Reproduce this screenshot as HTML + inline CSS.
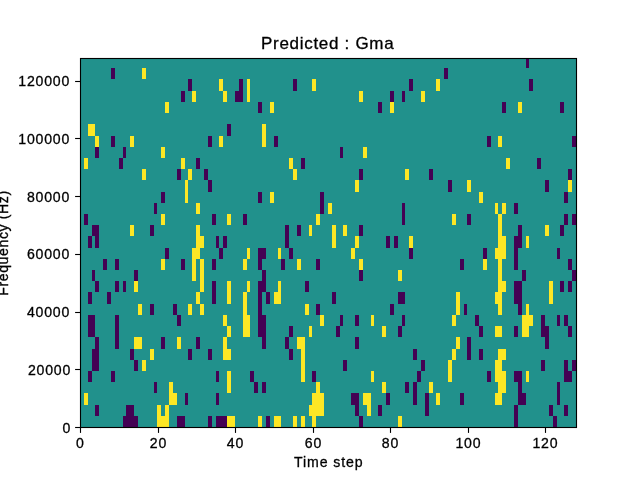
<!DOCTYPE html>
<html><head><meta charset="utf-8"><title>Predicted : Gma</title>
<style>
html,body{margin:0;padding:0;background:#fff;}
body{width:640px;height:480px;position:relative;overflow:hidden;font-family:"Liberation Sans",sans-serif;color:#000;}
svg{position:absolute;left:0;top:0;}
.t{position:absolute;white-space:nowrap;will-change:transform;-webkit-text-stroke:0.3px #000;}
.xt{top:434.5px;width:80px;text-align:center;font-size:14.1px;line-height:16px;letter-spacing:0.8px;text-indent:0.8px;}
.yt{left:0;width:70.1px;text-align:right;font-size:14.1px;line-height:16px;letter-spacing:0.8px;}
.title{left:261px;top:32.5px;font-size:17px;line-height:22px;letter-spacing:0.7px;}
.xl{left:294px;top:452.5px;font-size:14.1px;line-height:18px;letter-spacing:0.9px;}
.yl{left:-97.5px;top:234.2px;width:200px;height:18px;text-align:center;font-size:14.1px;line-height:18px;letter-spacing:0.6px;transform:rotate(-90deg);transform-origin:50% 50%;}
</style></head><body>
<svg width="640" height="480" viewBox="0 0 640 480" shape-rendering="crispEdges">
<rect x="80" y="58" width="497" height="370" fill="#21918c"/>
<rect x="526" y="58" width="3" height="10" fill="#440154"/>
<rect x="111" y="68" width="4" height="11" fill="#440154"/>
<rect x="444" y="68" width="4" height="11" fill="#440154"/>
<rect x="142" y="68" width="4" height="11" fill="#fde725"/>
<rect x="188" y="79" width="4" height="12" fill="#440154"/>
<rect x="239" y="79" width="4" height="12" fill="#440154"/>
<rect x="293" y="79" width="4" height="12" fill="#440154"/>
<rect x="409" y="79" width="4" height="12" fill="#440154"/>
<rect x="529" y="79" width="4" height="12" fill="#440154"/>
<rect x="219" y="79" width="4" height="12" fill="#fde725"/>
<rect x="247" y="79" width="3" height="12" fill="#fde725"/>
<rect x="312" y="79" width="4" height="12" fill="#fde725"/>
<rect x="436" y="79" width="4" height="12" fill="#fde725"/>
<rect x="181" y="91" width="4" height="11" fill="#440154"/>
<rect x="235" y="91" width="8" height="11" fill="#440154"/>
<rect x="390" y="91" width="4" height="11" fill="#440154"/>
<rect x="402" y="91" width="3" height="11" fill="#440154"/>
<rect x="192" y="91" width="4" height="11" fill="#fde725"/>
<rect x="223" y="91" width="4" height="11" fill="#fde725"/>
<rect x="247" y="91" width="3" height="11" fill="#fde725"/>
<rect x="359" y="91" width="4" height="11" fill="#fde725"/>
<rect x="421" y="91" width="4" height="11" fill="#fde725"/>
<rect x="258" y="102" width="4" height="11" fill="#440154"/>
<rect x="378" y="102" width="4" height="11" fill="#440154"/>
<rect x="502" y="102" width="4" height="11" fill="#440154"/>
<rect x="560" y="102" width="4" height="11" fill="#440154"/>
<rect x="165" y="102" width="4" height="11" fill="#fde725"/>
<rect x="270" y="102" width="4" height="11" fill="#fde725"/>
<rect x="390" y="102" width="4" height="11" fill="#fde725"/>
<rect x="518" y="102" width="4" height="11" fill="#fde725"/>
<rect x="227" y="124" width="4" height="12" fill="#440154"/>
<rect x="88" y="124" width="7" height="12" fill="#fde725"/>
<rect x="262" y="124" width="4" height="12" fill="#fde725"/>
<rect x="111" y="136" width="4" height="11" fill="#440154"/>
<rect x="208" y="136" width="4" height="11" fill="#440154"/>
<rect x="274" y="136" width="4" height="11" fill="#440154"/>
<rect x="487" y="136" width="4" height="11" fill="#440154"/>
<rect x="572" y="136" width="4" height="11" fill="#440154"/>
<rect x="95" y="136" width="4" height="11" fill="#fde725"/>
<rect x="130" y="136" width="4" height="11" fill="#fde725"/>
<rect x="219" y="136" width="4" height="11" fill="#fde725"/>
<rect x="262" y="136" width="4" height="11" fill="#fde725"/>
<rect x="498" y="136" width="4" height="11" fill="#fde725"/>
<rect x="95" y="147" width="4" height="11" fill="#440154"/>
<rect x="123" y="147" width="3" height="11" fill="#440154"/>
<rect x="340" y="147" width="3" height="11" fill="#440154"/>
<rect x="161" y="147" width="4" height="11" fill="#fde725"/>
<rect x="363" y="147" width="4" height="11" fill="#fde725"/>
<rect x="119" y="158" width="4" height="11" fill="#440154"/>
<rect x="196" y="158" width="4" height="11" fill="#440154"/>
<rect x="301" y="158" width="4" height="11" fill="#440154"/>
<rect x="537" y="158" width="4" height="11" fill="#440154"/>
<rect x="84" y="158" width="4" height="11" fill="#fde725"/>
<rect x="181" y="158" width="4" height="11" fill="#fde725"/>
<rect x="289" y="158" width="4" height="11" fill="#fde725"/>
<rect x="506" y="158" width="4" height="11" fill="#fde725"/>
<rect x="177" y="169" width="4" height="11" fill="#440154"/>
<rect x="204" y="169" width="4" height="11" fill="#440154"/>
<rect x="359" y="169" width="4" height="11" fill="#440154"/>
<rect x="429" y="169" width="4" height="11" fill="#440154"/>
<rect x="568" y="169" width="4" height="11" fill="#440154"/>
<rect x="142" y="169" width="4" height="11" fill="#fde725"/>
<rect x="188" y="169" width="4" height="11" fill="#fde725"/>
<rect x="293" y="169" width="4" height="11" fill="#fde725"/>
<rect x="405" y="169" width="4" height="11" fill="#fde725"/>
<rect x="208" y="180" width="4" height="12" fill="#440154"/>
<rect x="448" y="180" width="4" height="12" fill="#440154"/>
<rect x="545" y="180" width="4" height="12" fill="#440154"/>
<rect x="185" y="180" width="3" height="12" fill="#fde725"/>
<rect x="355" y="180" width="4" height="12" fill="#fde725"/>
<rect x="467" y="180" width="4" height="12" fill="#fde725"/>
<rect x="568" y="180" width="4" height="12" fill="#fde725"/>
<rect x="161" y="192" width="4" height="11" fill="#440154"/>
<rect x="258" y="192" width="4" height="11" fill="#440154"/>
<rect x="320" y="192" width="4" height="11" fill="#440154"/>
<rect x="564" y="192" width="4" height="11" fill="#440154"/>
<rect x="185" y="192" width="3" height="11" fill="#fde725"/>
<rect x="270" y="192" width="4" height="11" fill="#fde725"/>
<rect x="479" y="192" width="4" height="11" fill="#fde725"/>
<rect x="154" y="203" width="3" height="11" fill="#440154"/>
<rect x="320" y="203" width="4" height="11" fill="#440154"/>
<rect x="402" y="203" width="3" height="11" fill="#440154"/>
<rect x="514" y="203" width="4" height="11" fill="#440154"/>
<rect x="196" y="203" width="4" height="11" fill="#fde725"/>
<rect x="328" y="203" width="4" height="11" fill="#fde725"/>
<rect x="495" y="203" width="3" height="11" fill="#fde725"/>
<rect x="502" y="203" width="4" height="11" fill="#fde725"/>
<rect x="84" y="214" width="4" height="11" fill="#440154"/>
<rect x="212" y="214" width="4" height="11" fill="#440154"/>
<rect x="243" y="214" width="4" height="11" fill="#440154"/>
<rect x="402" y="214" width="3" height="11" fill="#440154"/>
<rect x="467" y="214" width="4" height="11" fill="#440154"/>
<rect x="564" y="214" width="4" height="11" fill="#440154"/>
<rect x="572" y="214" width="4" height="11" fill="#440154"/>
<rect x="161" y="214" width="4" height="11" fill="#fde725"/>
<rect x="227" y="214" width="4" height="11" fill="#fde725"/>
<rect x="316" y="214" width="4" height="11" fill="#fde725"/>
<rect x="452" y="214" width="4" height="11" fill="#fde725"/>
<rect x="498" y="214" width="4" height="11" fill="#fde725"/>
<rect x="92" y="225" width="7" height="11" fill="#440154"/>
<rect x="150" y="225" width="4" height="11" fill="#440154"/>
<rect x="285" y="225" width="4" height="11" fill="#440154"/>
<rect x="297" y="225" width="4" height="11" fill="#440154"/>
<rect x="359" y="225" width="4" height="11" fill="#440154"/>
<rect x="518" y="225" width="4" height="11" fill="#440154"/>
<rect x="560" y="225" width="4" height="11" fill="#440154"/>
<rect x="130" y="225" width="4" height="11" fill="#fde725"/>
<rect x="196" y="225" width="4" height="11" fill="#fde725"/>
<rect x="309" y="225" width="3" height="11" fill="#fde725"/>
<rect x="332" y="225" width="4" height="11" fill="#fde725"/>
<rect x="343" y="225" width="4" height="11" fill="#fde725"/>
<rect x="498" y="225" width="4" height="11" fill="#fde725"/>
<rect x="545" y="225" width="4" height="11" fill="#fde725"/>
<rect x="88" y="236" width="4" height="12" fill="#440154"/>
<rect x="95" y="236" width="4" height="12" fill="#440154"/>
<rect x="216" y="236" width="3" height="12" fill="#440154"/>
<rect x="223" y="236" width="4" height="12" fill="#440154"/>
<rect x="285" y="236" width="4" height="12" fill="#440154"/>
<rect x="386" y="236" width="4" height="12" fill="#440154"/>
<rect x="394" y="236" width="4" height="12" fill="#440154"/>
<rect x="514" y="236" width="8" height="12" fill="#440154"/>
<rect x="196" y="236" width="8" height="12" fill="#fde725"/>
<rect x="332" y="236" width="4" height="12" fill="#fde725"/>
<rect x="355" y="236" width="4" height="12" fill="#fde725"/>
<rect x="409" y="236" width="4" height="12" fill="#fde725"/>
<rect x="498" y="236" width="8" height="12" fill="#fde725"/>
<rect x="526" y="236" width="3" height="12" fill="#fde725"/>
<rect x="165" y="248" width="4" height="11" fill="#440154"/>
<rect x="219" y="248" width="4" height="11" fill="#440154"/>
<rect x="258" y="248" width="8" height="11" fill="#440154"/>
<rect x="289" y="248" width="4" height="11" fill="#440154"/>
<rect x="409" y="248" width="4" height="11" fill="#440154"/>
<rect x="483" y="248" width="4" height="11" fill="#440154"/>
<rect x="514" y="248" width="4" height="11" fill="#440154"/>
<rect x="557" y="248" width="3" height="11" fill="#440154"/>
<rect x="192" y="248" width="8" height="11" fill="#fde725"/>
<rect x="247" y="248" width="3" height="11" fill="#fde725"/>
<rect x="278" y="248" width="3" height="11" fill="#fde725"/>
<rect x="351" y="248" width="4" height="11" fill="#fde725"/>
<rect x="495" y="248" width="11" height="11" fill="#fde725"/>
<rect x="103" y="259" width="4" height="11" fill="#440154"/>
<rect x="115" y="259" width="4" height="11" fill="#440154"/>
<rect x="181" y="259" width="4" height="11" fill="#440154"/>
<rect x="212" y="259" width="4" height="11" fill="#440154"/>
<rect x="258" y="259" width="4" height="11" fill="#440154"/>
<rect x="281" y="259" width="4" height="11" fill="#440154"/>
<rect x="316" y="259" width="4" height="11" fill="#440154"/>
<rect x="460" y="259" width="4" height="11" fill="#440154"/>
<rect x="514" y="259" width="4" height="11" fill="#440154"/>
<rect x="568" y="259" width="4" height="11" fill="#440154"/>
<rect x="161" y="259" width="4" height="11" fill="#fde725"/>
<rect x="192" y="259" width="4" height="11" fill="#fde725"/>
<rect x="200" y="259" width="4" height="11" fill="#fde725"/>
<rect x="243" y="259" width="4" height="11" fill="#fde725"/>
<rect x="297" y="259" width="4" height="11" fill="#fde725"/>
<rect x="359" y="259" width="4" height="11" fill="#fde725"/>
<rect x="483" y="259" width="4" height="11" fill="#fde725"/>
<rect x="498" y="259" width="4" height="11" fill="#fde725"/>
<rect x="92" y="270" width="3" height="11" fill="#440154"/>
<rect x="134" y="270" width="4" height="11" fill="#440154"/>
<rect x="262" y="270" width="4" height="11" fill="#440154"/>
<rect x="359" y="270" width="4" height="11" fill="#440154"/>
<rect x="522" y="270" width="4" height="11" fill="#440154"/>
<rect x="572" y="270" width="4" height="11" fill="#440154"/>
<rect x="192" y="270" width="4" height="11" fill="#fde725"/>
<rect x="200" y="270" width="4" height="11" fill="#fde725"/>
<rect x="398" y="270" width="4" height="11" fill="#fde725"/>
<rect x="498" y="270" width="4" height="11" fill="#fde725"/>
<rect x="95" y="281" width="4" height="11" fill="#440154"/>
<rect x="115" y="281" width="4" height="11" fill="#440154"/>
<rect x="123" y="281" width="3" height="11" fill="#440154"/>
<rect x="212" y="281" width="4" height="11" fill="#440154"/>
<rect x="258" y="281" width="8" height="11" fill="#440154"/>
<rect x="305" y="281" width="4" height="11" fill="#440154"/>
<rect x="514" y="281" width="8" height="11" fill="#440154"/>
<rect x="560" y="281" width="4" height="11" fill="#440154"/>
<rect x="568" y="281" width="4" height="11" fill="#440154"/>
<rect x="134" y="281" width="4" height="11" fill="#fde725"/>
<rect x="200" y="281" width="4" height="11" fill="#fde725"/>
<rect x="227" y="281" width="4" height="11" fill="#fde725"/>
<rect x="247" y="281" width="3" height="11" fill="#fde725"/>
<rect x="278" y="281" width="3" height="11" fill="#fde725"/>
<rect x="498" y="281" width="8" height="11" fill="#fde725"/>
<rect x="549" y="281" width="4" height="11" fill="#fde725"/>
<rect x="88" y="292" width="4" height="12" fill="#440154"/>
<rect x="107" y="292" width="4" height="12" fill="#440154"/>
<rect x="212" y="292" width="4" height="12" fill="#440154"/>
<rect x="258" y="292" width="4" height="12" fill="#440154"/>
<rect x="266" y="292" width="4" height="12" fill="#440154"/>
<rect x="332" y="292" width="4" height="12" fill="#440154"/>
<rect x="398" y="292" width="7" height="12" fill="#440154"/>
<rect x="514" y="292" width="8" height="12" fill="#440154"/>
<rect x="196" y="292" width="4" height="12" fill="#fde725"/>
<rect x="227" y="292" width="4" height="12" fill="#fde725"/>
<rect x="243" y="292" width="4" height="12" fill="#fde725"/>
<rect x="274" y="292" width="7" height="12" fill="#fde725"/>
<rect x="456" y="292" width="4" height="12" fill="#fde725"/>
<rect x="495" y="292" width="7" height="12" fill="#fde725"/>
<rect x="549" y="292" width="4" height="12" fill="#fde725"/>
<rect x="150" y="304" width="4" height="11" fill="#440154"/>
<rect x="173" y="304" width="4" height="11" fill="#440154"/>
<rect x="258" y="304" width="4" height="11" fill="#440154"/>
<rect x="316" y="304" width="4" height="11" fill="#440154"/>
<rect x="390" y="304" width="4" height="11" fill="#440154"/>
<rect x="464" y="304" width="3" height="11" fill="#440154"/>
<rect x="518" y="304" width="4" height="11" fill="#440154"/>
<rect x="138" y="304" width="4" height="11" fill="#fde725"/>
<rect x="188" y="304" width="4" height="11" fill="#fde725"/>
<rect x="200" y="304" width="4" height="11" fill="#fde725"/>
<rect x="243" y="304" width="4" height="11" fill="#fde725"/>
<rect x="305" y="304" width="4" height="11" fill="#fde725"/>
<rect x="456" y="304" width="4" height="11" fill="#fde725"/>
<rect x="498" y="304" width="4" height="11" fill="#fde725"/>
<rect x="526" y="304" width="3" height="11" fill="#fde725"/>
<rect x="88" y="315" width="7" height="11" fill="#440154"/>
<rect x="115" y="315" width="4" height="11" fill="#440154"/>
<rect x="177" y="315" width="4" height="11" fill="#440154"/>
<rect x="258" y="315" width="8" height="11" fill="#440154"/>
<rect x="340" y="315" width="3" height="11" fill="#440154"/>
<rect x="355" y="315" width="4" height="11" fill="#440154"/>
<rect x="402" y="315" width="3" height="11" fill="#440154"/>
<rect x="475" y="315" width="4" height="11" fill="#440154"/>
<rect x="541" y="315" width="4" height="11" fill="#440154"/>
<rect x="557" y="315" width="3" height="11" fill="#440154"/>
<rect x="564" y="315" width="4" height="11" fill="#440154"/>
<rect x="223" y="315" width="4" height="11" fill="#fde725"/>
<rect x="243" y="315" width="7" height="11" fill="#fde725"/>
<rect x="320" y="315" width="4" height="11" fill="#fde725"/>
<rect x="371" y="315" width="3" height="11" fill="#fde725"/>
<rect x="452" y="315" width="4" height="11" fill="#fde725"/>
<rect x="522" y="315" width="11" height="11" fill="#fde725"/>
<rect x="88" y="326" width="7" height="11" fill="#440154"/>
<rect x="115" y="326" width="4" height="11" fill="#440154"/>
<rect x="258" y="326" width="8" height="11" fill="#440154"/>
<rect x="289" y="326" width="4" height="11" fill="#440154"/>
<rect x="336" y="326" width="4" height="11" fill="#440154"/>
<rect x="398" y="326" width="4" height="11" fill="#440154"/>
<rect x="479" y="326" width="4" height="11" fill="#440154"/>
<rect x="514" y="326" width="4" height="11" fill="#440154"/>
<rect x="541" y="326" width="8" height="11" fill="#440154"/>
<rect x="568" y="326" width="4" height="11" fill="#440154"/>
<rect x="227" y="326" width="4" height="11" fill="#fde725"/>
<rect x="243" y="326" width="7" height="11" fill="#fde725"/>
<rect x="309" y="326" width="3" height="11" fill="#fde725"/>
<rect x="382" y="326" width="4" height="11" fill="#fde725"/>
<rect x="495" y="326" width="7" height="11" fill="#fde725"/>
<rect x="522" y="326" width="7" height="11" fill="#fde725"/>
<rect x="95" y="337" width="4" height="12" fill="#440154"/>
<rect x="115" y="337" width="4" height="12" fill="#440154"/>
<rect x="161" y="337" width="4" height="12" fill="#440154"/>
<rect x="196" y="337" width="4" height="12" fill="#440154"/>
<rect x="262" y="337" width="4" height="12" fill="#440154"/>
<rect x="285" y="337" width="4" height="12" fill="#440154"/>
<rect x="355" y="337" width="4" height="12" fill="#440154"/>
<rect x="467" y="337" width="4" height="12" fill="#440154"/>
<rect x="545" y="337" width="4" height="12" fill="#440154"/>
<rect x="134" y="337" width="8" height="12" fill="#fde725"/>
<rect x="177" y="337" width="4" height="12" fill="#fde725"/>
<rect x="223" y="337" width="4" height="12" fill="#fde725"/>
<rect x="297" y="337" width="8" height="12" fill="#fde725"/>
<rect x="456" y="337" width="4" height="12" fill="#fde725"/>
<rect x="92" y="349" width="7" height="11" fill="#440154"/>
<rect x="130" y="349" width="4" height="11" fill="#440154"/>
<rect x="188" y="349" width="4" height="11" fill="#440154"/>
<rect x="208" y="349" width="4" height="11" fill="#440154"/>
<rect x="289" y="349" width="4" height="11" fill="#440154"/>
<rect x="413" y="349" width="4" height="11" fill="#440154"/>
<rect x="467" y="349" width="4" height="11" fill="#440154"/>
<rect x="479" y="349" width="4" height="11" fill="#440154"/>
<rect x="150" y="349" width="4" height="11" fill="#fde725"/>
<rect x="223" y="349" width="8" height="11" fill="#fde725"/>
<rect x="301" y="349" width="4" height="11" fill="#fde725"/>
<rect x="452" y="349" width="4" height="11" fill="#fde725"/>
<rect x="498" y="349" width="8" height="11" fill="#fde725"/>
<rect x="92" y="360" width="7" height="11" fill="#440154"/>
<rect x="134" y="360" width="4" height="11" fill="#440154"/>
<rect x="343" y="360" width="4" height="11" fill="#440154"/>
<rect x="421" y="360" width="4" height="11" fill="#440154"/>
<rect x="541" y="360" width="4" height="11" fill="#440154"/>
<rect x="564" y="360" width="4" height="11" fill="#440154"/>
<rect x="572" y="360" width="4" height="11" fill="#440154"/>
<rect x="142" y="360" width="4" height="11" fill="#fde725"/>
<rect x="301" y="360" width="4" height="11" fill="#fde725"/>
<rect x="448" y="360" width="4" height="11" fill="#fde725"/>
<rect x="495" y="360" width="7" height="11" fill="#fde725"/>
<rect x="88" y="371" width="4" height="11" fill="#440154"/>
<rect x="111" y="371" width="4" height="11" fill="#440154"/>
<rect x="216" y="371" width="3" height="11" fill="#440154"/>
<rect x="250" y="371" width="4" height="11" fill="#440154"/>
<rect x="312" y="371" width="4" height="11" fill="#440154"/>
<rect x="417" y="371" width="4" height="11" fill="#440154"/>
<rect x="487" y="371" width="4" height="11" fill="#440154"/>
<rect x="514" y="371" width="8" height="11" fill="#440154"/>
<rect x="564" y="371" width="8" height="11" fill="#440154"/>
<rect x="227" y="371" width="4" height="11" fill="#fde725"/>
<rect x="301" y="371" width="4" height="11" fill="#fde725"/>
<rect x="371" y="371" width="3" height="11" fill="#fde725"/>
<rect x="448" y="371" width="4" height="11" fill="#fde725"/>
<rect x="495" y="371" width="11" height="11" fill="#fde725"/>
<rect x="526" y="371" width="3" height="11" fill="#fde725"/>
<rect x="154" y="382" width="3" height="11" fill="#440154"/>
<rect x="254" y="382" width="4" height="11" fill="#440154"/>
<rect x="262" y="382" width="4" height="11" fill="#440154"/>
<rect x="405" y="382" width="4" height="11" fill="#440154"/>
<rect x="413" y="382" width="4" height="11" fill="#440154"/>
<rect x="518" y="382" width="4" height="11" fill="#440154"/>
<rect x="557" y="382" width="3" height="11" fill="#440154"/>
<rect x="169" y="382" width="4" height="11" fill="#fde725"/>
<rect x="227" y="382" width="4" height="11" fill="#fde725"/>
<rect x="316" y="382" width="4" height="11" fill="#fde725"/>
<rect x="382" y="382" width="4" height="11" fill="#fde725"/>
<rect x="429" y="382" width="4" height="11" fill="#fde725"/>
<rect x="498" y="382" width="8" height="11" fill="#fde725"/>
<rect x="185" y="393" width="3" height="12" fill="#440154"/>
<rect x="216" y="393" width="3" height="12" fill="#440154"/>
<rect x="351" y="393" width="8" height="12" fill="#440154"/>
<rect x="386" y="393" width="4" height="12" fill="#440154"/>
<rect x="413" y="393" width="4" height="12" fill="#440154"/>
<rect x="425" y="393" width="4" height="12" fill="#440154"/>
<rect x="460" y="393" width="4" height="12" fill="#440154"/>
<rect x="518" y="393" width="8" height="12" fill="#440154"/>
<rect x="557" y="393" width="3" height="12" fill="#440154"/>
<rect x="84" y="393" width="4" height="12" fill="#fde725"/>
<rect x="169" y="393" width="8" height="12" fill="#fde725"/>
<rect x="312" y="393" width="12" height="12" fill="#fde725"/>
<rect x="363" y="393" width="8" height="12" fill="#fde725"/>
<rect x="436" y="393" width="4" height="12" fill="#fde725"/>
<rect x="495" y="393" width="7" height="12" fill="#fde725"/>
<rect x="95" y="405" width="4" height="11" fill="#440154"/>
<rect x="126" y="405" width="8" height="11" fill="#440154"/>
<rect x="355" y="405" width="4" height="11" fill="#440154"/>
<rect x="378" y="405" width="4" height="11" fill="#440154"/>
<rect x="425" y="405" width="4" height="11" fill="#440154"/>
<rect x="514" y="405" width="4" height="11" fill="#440154"/>
<rect x="549" y="405" width="4" height="11" fill="#440154"/>
<rect x="564" y="405" width="4" height="11" fill="#440154"/>
<rect x="157" y="405" width="4" height="11" fill="#fde725"/>
<rect x="165" y="405" width="4" height="11" fill="#fde725"/>
<rect x="309" y="405" width="15" height="11" fill="#fde725"/>
<rect x="367" y="405" width="4" height="11" fill="#fde725"/>
<rect x="123" y="416" width="15" height="11" fill="#440154"/>
<rect x="177" y="416" width="8" height="11" fill="#440154"/>
<rect x="208" y="416" width="4" height="11" fill="#440154"/>
<rect x="216" y="416" width="11" height="11" fill="#440154"/>
<rect x="266" y="416" width="4" height="11" fill="#440154"/>
<rect x="359" y="416" width="4" height="11" fill="#440154"/>
<rect x="514" y="416" width="4" height="11" fill="#440154"/>
<rect x="553" y="416" width="4" height="11" fill="#440154"/>
<rect x="157" y="416" width="12" height="11" fill="#fde725"/>
<rect x="227" y="416" width="8" height="11" fill="#fde725"/>
<rect x="258" y="416" width="4" height="11" fill="#fde725"/>
<rect x="274" y="416" width="7" height="11" fill="#fde725"/>
<rect x="293" y="416" width="4" height="11" fill="#fde725"/>
<rect x="301" y="416" width="4" height="11" fill="#fde725"/>
<rect x="312" y="416" width="4" height="11" fill="#fde725"/>
<rect x="398" y="416" width="4" height="11" fill="#fde725"/>
</svg>
<svg width="640" height="480" viewBox="0 0 640 480">
<rect x="80.5" y="58.5" width="496" height="369" fill="none" stroke="#000" stroke-width="1.11"/>
<line x1="80.5" y1="427.5" x2="80.5" y2="432.9" stroke="#000" stroke-width="1.11"/>
<line x1="158.5" y1="427.5" x2="158.5" y2="432.9" stroke="#000" stroke-width="1.11"/>
<line x1="235.5" y1="427.5" x2="235.5" y2="432.9" stroke="#000" stroke-width="1.11"/>
<line x1="313.5" y1="427.5" x2="313.5" y2="432.9" stroke="#000" stroke-width="1.11"/>
<line x1="390.5" y1="427.5" x2="390.5" y2="432.9" stroke="#000" stroke-width="1.11"/>
<line x1="468.5" y1="427.5" x2="468.5" y2="432.9" stroke="#000" stroke-width="1.11"/>
<line x1="545.5" y1="427.5" x2="545.5" y2="432.9" stroke="#000" stroke-width="1.11"/>
<line x1="75.1" y1="427.5" x2="80.5" y2="427.5" stroke="#000" stroke-width="1.11"/>
<line x1="75.1" y1="369.5" x2="80.5" y2="369.5" stroke="#000" stroke-width="1.11"/>
<line x1="75.1" y1="312.5" x2="80.5" y2="312.5" stroke="#000" stroke-width="1.11"/>
<line x1="75.1" y1="254.5" x2="80.5" y2="254.5" stroke="#000" stroke-width="1.11"/>
<line x1="75.1" y1="196.5" x2="80.5" y2="196.5" stroke="#000" stroke-width="1.11"/>
<line x1="75.1" y1="138.5" x2="80.5" y2="138.5" stroke="#000" stroke-width="1.11"/>
<line x1="75.1" y1="81.5" x2="80.5" y2="81.5" stroke="#000" stroke-width="1.11"/>
</svg>
<div class="t title">Predicted : Gma</div>
<div class="t xl">Time step</div>
<div class="t yl">Frequency (Hz)</div>
<div class="t xt" style="left:39.50px">0</div>
<div class="t xt" style="left:117.50px">20</div>
<div class="t xt" style="left:194.50px">40</div>
<div class="t xt" style="left:272.50px">60</div>
<div class="t xt" style="left:349.50px">80</div>
<div class="t xt" style="left:427.50px">100</div>
<div class="t xt" style="left:504.50px">120</div>
<div class="t yt" style="top:420.00px;left:1px">0</div>
<div class="t yt" style="top:362.00px;left:1px">20000</div>
<div class="t yt" style="top:304.00px;left:0px">40000</div>
<div class="t yt" style="top:246.00px;left:0px">60000</div>
<div class="t yt" style="top:189.00px;left:0px">80000</div>
<div class="t yt" style="top:131.00px;left:0px">100000</div>
<div class="t yt" style="top:73.00px;left:0px">120000</div>
</body></html>
